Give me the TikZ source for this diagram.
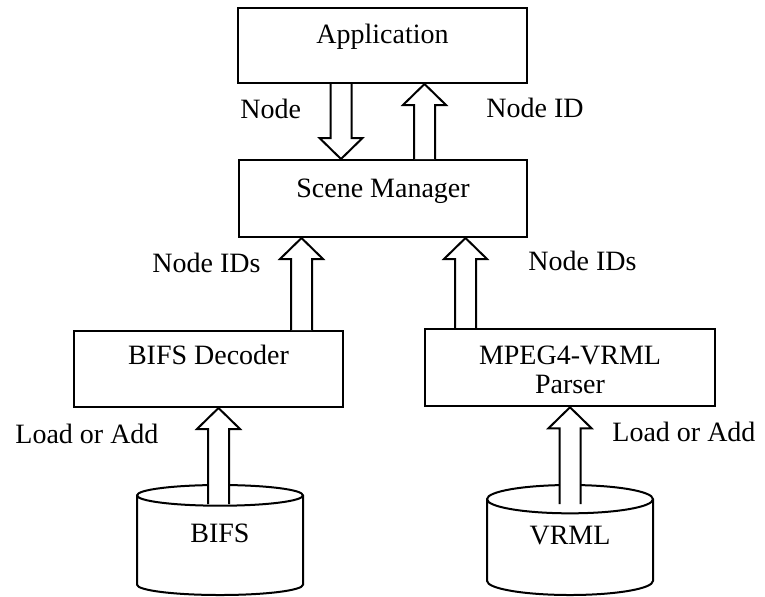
\documentclass[tikz,border=0pt]{standalone}
\usepackage{fontspec}
\setmainfont{Liberation Serif}
\usetikzlibrary{calc,shapes.geometric}

\newcommand\shaftw{5.25pt}
\newcommand\headw{10.75pt}
\newcommand\headl{10.5pt}
% block arrow: x of the tail, y of tail and tip
\newcommand\blockarrow[2]{%
  \draw[fatarrow] let \p1=(#1), \p2=(#2), \n1={sign(\y1-\y2)} in
    (\x1-\shaftw,\y1) -- (\x1-\shaftw,\y2+\n1*\headl) -- (\x1-\headw,\y2+\n1*\headl)
    -- (\x1,\y2) -- (\x1+\headw,\y2+\n1*\headl) -- (\x1+\shaftw,\y2+\n1*\headl)
    -- (\x1+\shaftw,\y1);}

\tikzset{
  box/.style={draw, rectangle, line width=1pt, inner sep=0pt},
  store/.style={draw, cylinder, shape border rotate=90, aspect=0.35,
    line width=1pt, fill=white, inner sep=0pt, anchor=shape center,
    text height=9.5pt, text depth=12.2pt,
    minimum width=83pt, minimum height=55pt},
  fatarrow/.style={draw, fill=white, line width=1pt, line join=miter},
  lbl/.style={anchor=base west, inner sep=0pt}
}

\begin{document}
\begin{tikzpicture}[x=0.5pt, y=-0.5pt, font=\fontsize{14}{14.5}\selectfont]
        \useasboundingbox (0,0) rectangle (765,596);
        \node [box, minimum width=144.5pt, text height=17.5pt, text depth=20pt] (app) at (382.5,45.5) {Application};
        \node [box, minimum width=144pt, text height=18.5pt, text depth=20pt] (scene) at (383,198.5) {Scene Manager};
        \node [box, minimum width=134.5pt, text height=16.5pt, text depth=21.5pt] (bifsdec) at (208.5,369) {BIFS Decoder};
        \node [box, minimum width=145pt, text height=32.5pt, text depth=6.25pt, align=center] (parser) at (570,367.5) {MPEG4-VRML\\Parser};
        \node [store] (bifs) at (220,540) {BIFS};
        \node [store] (vrml) at (570,540) {VRML};
        \blockarrow{$(app.south)+(-41.5,0)$}{scene.north}
        \blockarrow{$(scene.north)+(41.5,0)$}{app.south}
        \blockarrow{$(bifsdec.north)+(93,0)$}{scene.south}
        \blockarrow{$(parser.north)+(-104.5,0)$}{scene.south}
        \blockarrow{$(bifs.top)+(-1.5,20)$}{bifsdec.south}
        \blockarrow{$(vrml.top)+(0,20)$}{parser.south}
        \node [lbl] (lnode) at (240,118) {Node};
        \node [lbl] (lnodeid) at (486,117) {Node ID};
        \node [lbl] (lidsl) at (152,272) {Node IDs};
        \node [lbl] (lidsr) at (528,270) {Node IDs};
        \node [lbl] (lloadl) at (15,443) {Load or Add};
        \node [lbl] (lloadr) at (612,441) {Load or Add};
\end{tikzpicture}
\end{document}
